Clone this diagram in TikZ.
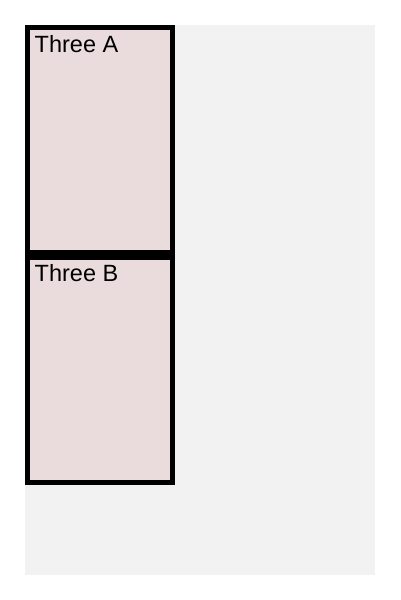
\documentclass[tikz,border=0pt]{standalone}
\usepackage{fontspec}
\setmainfont{Liberation Sans}
\definecolor{panelgray}{HTML}{F2F2F2}
\definecolor{boxpink}{HTML}{EADCDC}

\begin{document}
\begin{tikzpicture}[x=1pt,y=-1pt,
  cell/.style={draw=black, line width=5pt, fill=boxpink, inner sep=0pt,
    minimum width=145pt, minimum height=225pt},
  celltext/.style={anchor=base west, inner sep=0pt, font=\fontsize{23.5}{28}\selectfont}]
  \newcommand{\storeCoordinate}[3]{
    \pgfcoordinate{#1}{\pgfpointxy{#2}{#3}}
  }

  \storeCoordinate{centerA}{100}{140}
  \storeCoordinate{centerB}{100}{370}

  \useasboundingbox (0,0) rectangle (400,600);
  \fill[white] (0,0) rectangle (400,600);
  \fill[panelgray] (25,25) rectangle (375,575);

  \node[cell] (threeA) at (centerA) {};
  \node[celltext] (labelA) at (34.5,52) {Three A};

  \node[cell] (threeB) at (centerB) {};
  \node[celltext] (labelB) at (34.5,281) {Three B};
\end{tikzpicture}
\end{document}
